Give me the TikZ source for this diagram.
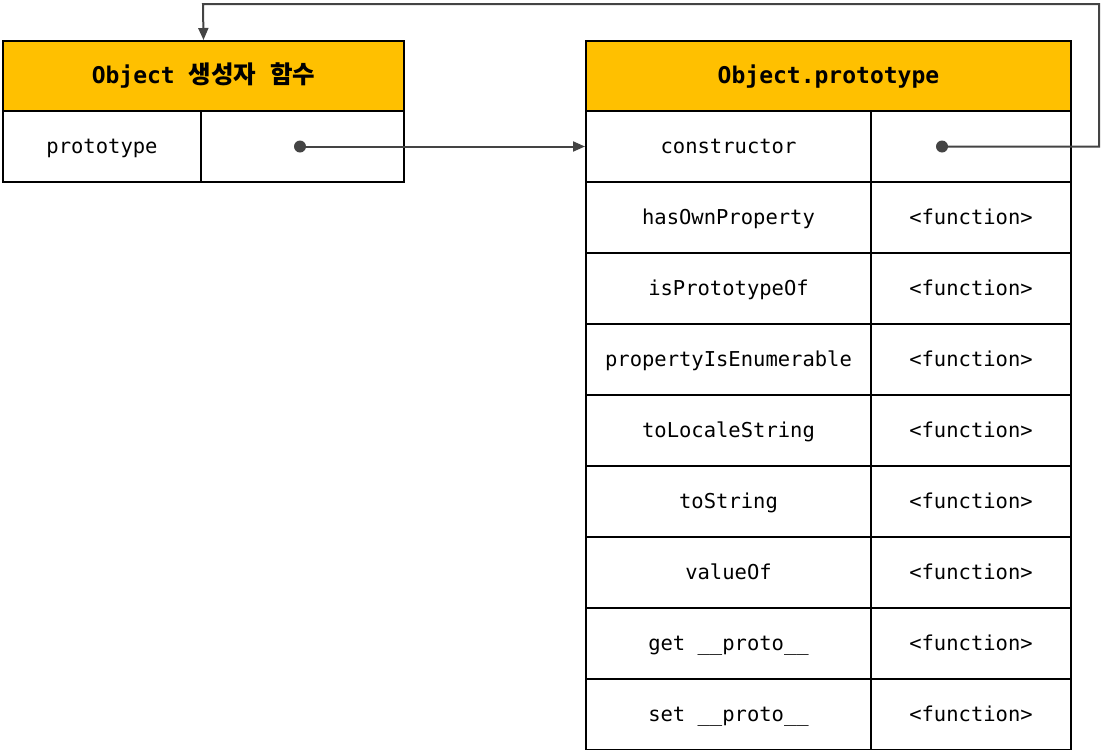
\documentclass[tikz,border=0pt]{standalone}
\usepackage{fontspec}
\setmonofont{DejaVu Sans Mono}
\newfontfamily\kr{Noto Sans CJK KR}
\usetikzlibrary{arrows.meta}
\definecolor{hdr}{HTML}{FFC000}
\definecolor{conn}{HTML}{444444}
\tikzset{
  cell/.style={draw=black, line width=2pt, inner sep=0pt, minimum height=71pt,
    text height=19.4pt, text depth=5pt,
    font=\ttfamily\fontsize{20.5}{24}\selectfont},
  head/.style={cell, fill=hdr, minimum height=70pt,
    text height=20.4pt, text depth=5.5pt,
    font=\ttfamily\bfseries\fontsize{23}{27}\selectfont},
  keycell/.style={cell, minimum width=285pt},
  valcell/.style={cell, minimum width=200pt},
  conline/.style={draw=conn, line width=2pt, -{Triangle[length=12pt,width=10pt]}},
  dotmark/.style={circle, fill=conn, inner sep=0pt, minimum size=12pt}
}
\newcommand{\krb}[1]{{\kr\bfseries\fontsize{24.5}{27}\selectfont #1}}
\begin{document}
\begin{tikzpicture}[x=1pt,y=-1pt]
\useasboundingbox (0,0) rectangle (1120,750);
% left table
\node[head, minimum width=401pt] (lh) at (203.5,76) {Object \krb{생성자} \krb{함수}};
\node[cell, minimum width=198pt] (lk) at (102,146.5) {prototype};
\node[cell, minimum width=203pt] (lv) at (302.5,146.5) {};
% right table
\node[head, minimum width=485pt] (rh) at (828.5,76) {Object.prototype};
\foreach \i/\k/\v in {0/constructor/{},1/hasOwnProperty/{<function>},2/isPrototypeOf/{<function>},
  3/propertyIsEnumerable/{<function>},4/toLocaleString/{<function>},5/toString/{<function>},
  6/valueOf/{<function>},7/get \_\_proto\_\_/{<function>},8/set \_\_proto\_\_/{<function>}}{
  \node[keycell] (k\i) at (728.5,146.5+71*\i) {\k};
  \node[valcell] (v\i) at (971,146.5+71*\i) {\v};
}
% connectors
\coordinate (d1) at (300,146.5);
\coordinate (d2) at (942,146.5);
\coordinate (c1) at (1099,4);
\coordinate (c2) at (203,4);
\draw[conline] (d1) -- (k0.west);
\draw[conline] (d2) -| (c1) -- (c2) -- (lh.north);
\node[dotmark] at (d1) {};
\node[dotmark] at (d2) {};
\end{tikzpicture}
\end{document}
